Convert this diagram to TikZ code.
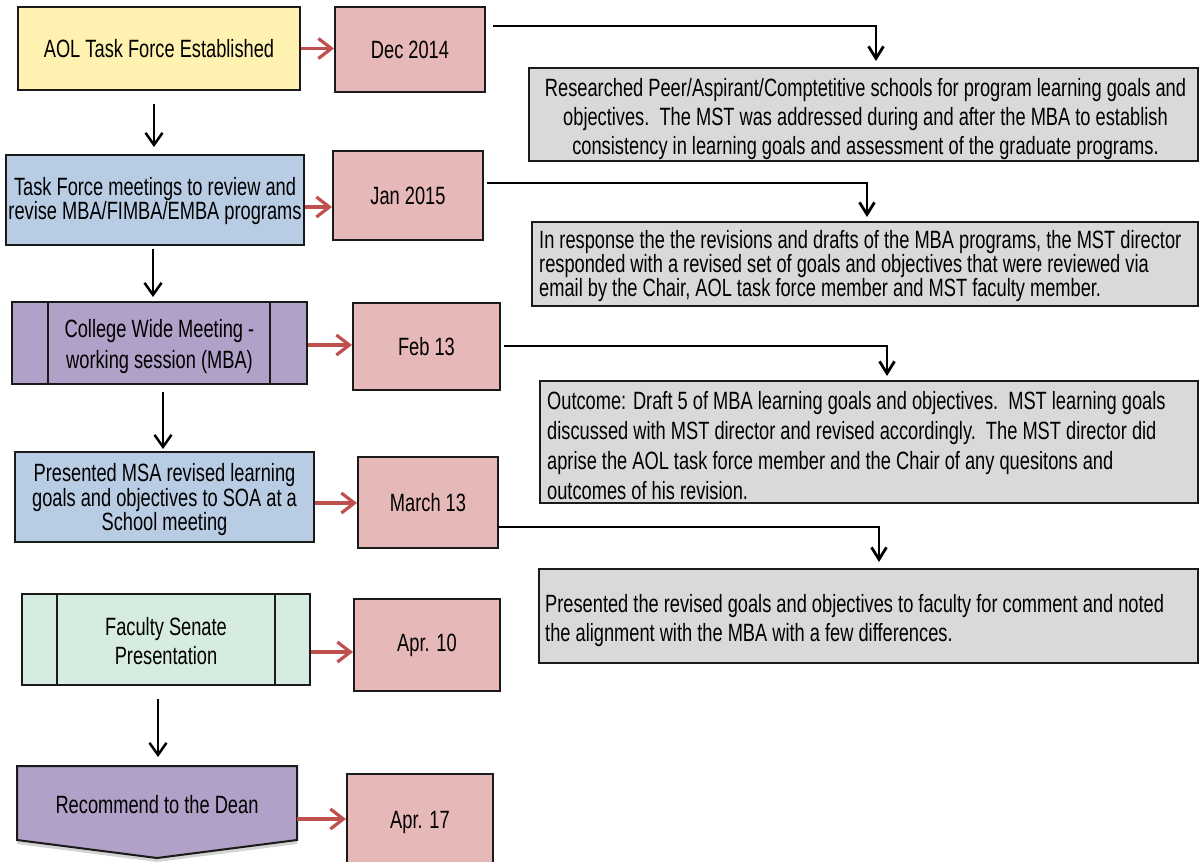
\documentclass[tikz,border=0pt]{standalone}
\usepackage{fontspec}
\setmainfont{Liberation Sans}[FakeStretch=0.73]
\usetikzlibrary{arrows.meta,calc,shadows}
\definecolor{cyellow}{HTML}{FFF2B0}
\definecolor{cpink}{HTML}{E6B8B7}
\definecolor{cblue}{HTML}{B8CCE4}
\definecolor{cpurple}{HTML}{B1A0C7}
\definecolor{cgreen}{HTML}{D7ECE0}
\definecolor{cgray}{HTML}{D9D9D9}
\definecolor{cred}{HTML}{C0504D}
\definecolor{cline}{HTML}{1A1A1A}
\begin{document}
\begin{tikzpicture}[x=1pt,y=-1pt,
  box/.style={draw=cline,line width=2pt,rectangle,inner sep=0pt,align=center,
    font={\fontsize{25}{29}\selectfont}},
  txt/.style={inner sep=0pt,align=center,font={\fontsize{25}{#1}\selectfont}},
  txt/.default=29,
  ltxt/.style={txt=#1,align=left,anchor=west},
  ltxt/.default=29,
  datebox/.style={box,fill=cpink,minimum width=#1},
  notebox/.style={box,fill=cgray},
  redarrow/.style={draw=cred,line width=3.2pt,-{Straight Barb[length=13pt,width=20pt]}},
  downarrow/.style={draw=black,line width=2.5pt,-{Straight Barb[length=12pt,width=17pt]}},
  conn/.style={draw=black,line width=2.8pt,-{Straight Barb[length=12pt,width=15pt]}}
]
\useasboundingbox (0,0) rectangle (1200,862);

% left column
\node[box,fill=cyellow,minimum width=282pt,minimum height=83pt] (aol) at (159,48.5) {AOL Task Force Established};

\node[box,fill=cblue,minimum width=298pt,minimum height=90pt] (tf) at (155,200) {};
\node[txt=24] (tft) at ([yshift=-1pt]tf.center) {Task Force meetings to review and\\revise MBA/FIMBA/EMBA programs};

\node[box,fill=cpurple,minimum width=295pt,minimum height=82pt] (cw) at (159.5,343) {};
\draw[cline,line width=2pt] ($(cw.north west)+(37,0)$) -- ($(cw.south west)+(37,0)$);
\draw[cline,line width=2pt] ($(cw.north east)+(-38,0)$) -- ($(cw.south east)+(-38,0)$);
\node[txt=31] (cwt) at ([yshift=-4pt]cw.center) {College Wide Meeting -\\working session (MBA)};

\node[box,fill=cblue,minimum width=299pt,minimum height=90pt] (msa) at (164.5,497) {};
\node[txt=24.5] (msat) at ([yshift=-3pt]msa.center) {Presented MSA revised learning\\goals and objectives to SOA at a\\School meeting};

\node[box,fill=cgreen,minimum width=288pt,minimum height=91pt] (fs) at (166,639.5) {};
\draw[cline,line width=2pt] ($(fs.north west)+(36,0)$) -- ($(fs.south west)+(36,0)$);
\draw[cline,line width=2pt] ($(fs.north east)+(-36,0)$) -- ($(fs.south east)+(-36,0)$);
\node[txt] (fst) at ([yshift=-2pt]fs.center) {Faculty Senate\\Presentation};

\node[box,draw=none,minimum width=278pt,minimum height=72pt] (dean) at (157,803) {};
\path[fill=cpurple,draw=cline,line width=2pt,
  drop shadow={shadow xshift=0pt,shadow yshift=-4pt,opacity=0.35,fill=gray}]
  (dean.north west) -- (dean.north east) -- (dean.south east)
  -- ($(dean.south)+(0,18)$) -- (dean.south west) -- cycle;
\node[txt] (deant) at ([yshift=-2pt]dean.center) {Recommend to the Dean};

% dates
\node[datebox=150pt,minimum height=85pt] (dec) at (410,49.5) {Dec 2014};
\node[datebox=150pt,minimum height=89pt] (jan) at (408,195.5) {Jan 2015};
\node[datebox=147pt,minimum height=87pt] (feb) at (426.5,346.5) {Feb 13};
\node[datebox=140pt,minimum height=91pt] (mar) at (428,502.5) {March 13};
\node[datebox=146pt,minimum height=92pt] (a10) at (427,645) {Apr. 10};
\node[datebox=146pt,minimum height=96pt] (a17) at (420,822) {Apr. 17};

% notes
\node[notebox,minimum width=669pt,minimum height=93pt] (g1) at (863.5,114.5) {};
\node[txt] (g1t) at ([xshift=2pt,yshift=-5pt]g1.center)
  {Researched Peer/Aspirant/Comptetitive schools for program learning goals and\\
   objectives.\ \ The MST was addressed during and after the MBA to establish\\
   consistency in learning goals and assessment of the graduate programs.};
\node[notebox,minimum width=666pt,minimum height=84pt] (g2) at (865,264) {};
\node[ltxt=24] (g2t) at ([xshift=8pt,yshift=-2pt]g2.west)
  {In response the the revisions and drafts of the MBA programs, the MST director\\
   responded with a revised set of goals and objectives that were reviewed via\\
   email by the Chair, AOL task force member and MST faculty member.};
\node[notebox,minimum width=658pt,minimum height=122pt] (g3) at (869,442) {};
\node[ltxt=30] (g3t) at ([xshift=8pt,yshift=-4pt]g3.west)
  {Outcome: Draft 5 of MBA learning goals and objectives.\ \ MST learning goals\\
   discussed with MST director and revised accordingly.\ \ The MST director did\\
   aprise the AOL task force member and the Chair of any quesitons and\\
   outcomes of his revision.};
\node[notebox,minimum width=659pt,minimum height=94pt] (g4) at (868.5,616) {};
\node[ltxt] (g4t) at ([xshift=7pt,yshift=-5pt]g4.west)
  {Presented the revised goals and objectives to faculty for comment and noted\\
   the alignment with the MBA with a few differences.};

% red arrows
\draw[redarrow] (aol.east) -- (aol.east -| dec.west);
\coordinate (r2) at ($(tf.east)+(0,7)$);
\draw[redarrow] (r2) -- (r2 -| jan.west);
\coordinate (r3) at ($(cw.east)+(0,2)$);
\draw[redarrow] (r3) -- (r3 -| feb.west);
\coordinate (r4) at ($(msa.east)+(0,6)$);
\draw[redarrow] (r4) -- (r4 -| mar.west);
\coordinate (r5) at ($(fs.east)+(0,12.5)$);
\draw[redarrow] (r5) -- (r5 -| a10.west);
\coordinate (r6) at ($(dean.east)+(0,16)$);
\draw[redarrow] (r6) -- (r6 -| a17.west);

% down arrows
\draw[downarrow] ($(aol.south)+(-5,13)$) -- ($(tf.north)+(-1,-7)$);
\draw[downarrow] ($(tf.south)+(-2,3)$) -- ($(cw.north)+(-6.5,-4)$);
\draw[downarrow] ($(cw.south)+(3.5,7)$) -- ($(msa.north)+(-1.5,-2)$);
\draw[downarrow] ($(fs.south)+(-8,13)$) -- ($(dean.north)+(1,-9)$);

% elbow connectors
\draw[conn] ($(dec.north east)+(7,20)$) -| ($(g1.north west)+(348,-6)$);
\draw[conn] ($(jan.north east)+(3,33)$) -| ($(g2.north west)+(336,-4)$);
\draw[conn] ($(feb.north east)+(3,44)$) -| ($(g3.north west)+(348,-4)$);
\draw[conn] ($(mar.north east)+(-1,71)$) -| ($(g4.north west)+(341,-6)$);
\end{tikzpicture}
\end{document}
